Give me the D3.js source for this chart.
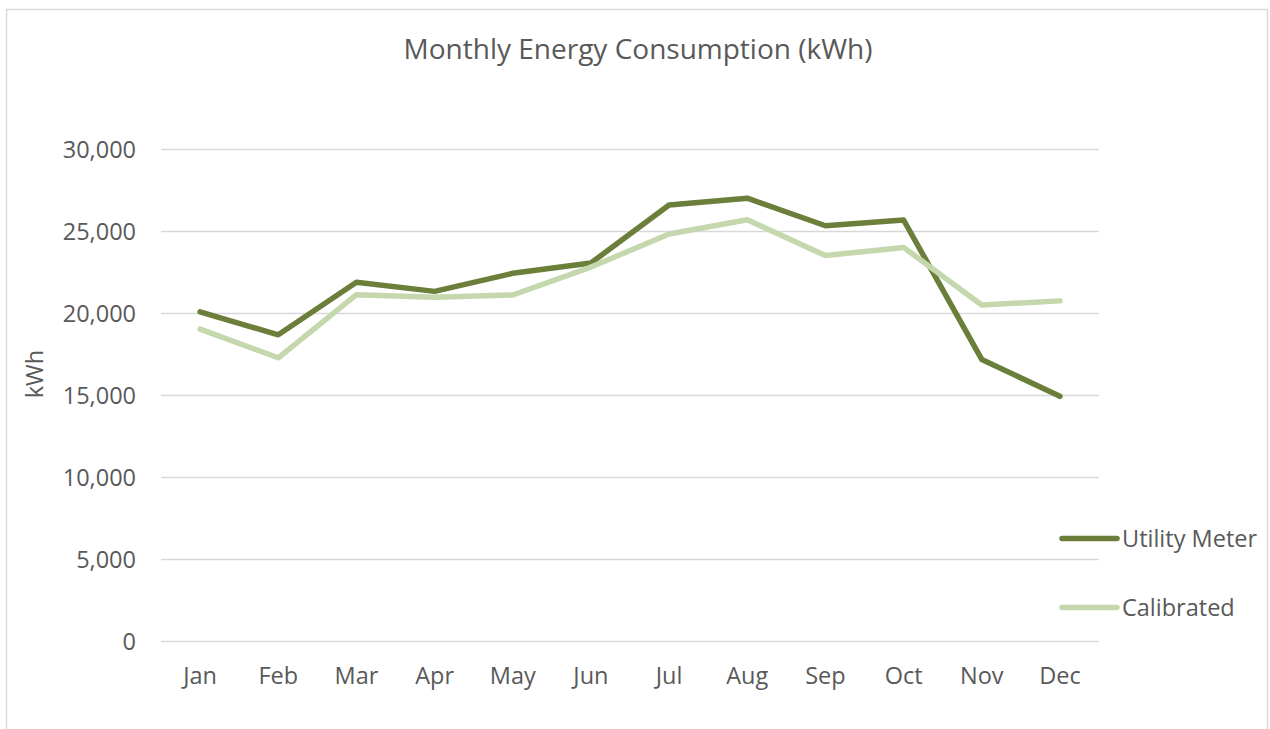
<!DOCTYPE html>
<html>
<head>
<meta charset="utf-8">
<script src="https://cdn.jsdelivr.net/npm/d3@7"></script>
<style>
  html, body { margin: 0; padding: 0; background: #fff; }
  text { font-family: "Open Sans", "Noto Sans", sans-serif; fill: #595959; }
</style>
</head>
<body>
<svg id="chart" width="1270" height="729"></svg>
<script>
// values
const months = ['Jan', 'Feb', 'Mar', 'Apr', 'May', 'Jun', 'Jul', 'Aug', 'Sep', 'Oct', 'Nov', 'Dec'];
const utilityMeter = [20100, 18700, 21900, 21350, 22450, 23080, 26620, 27030, 25350, 25700, 17200, 14950];
const calibrated = [19050, 17300, 21150, 20990, 21130, 22830, 24850, 25720, 23530, 24030, 20520, 20770];
const yTicks = [0, 5000, 10000, 15000, 20000, 25000, 30000];
const seriesNames = ['Utility Meter', 'Calibrated'];
const seriesColors = ['#6b7f3a', '#c5d7ac'];

const svg = d3.select('#chart');

// outer chart border
svg.append('rect')
  .attr('x', 6.5).attr('y', 9.5)
  .attr('width', 1261).attr('height', 740)
  .attr('fill', '#fff')
  .attr('stroke', '#d9d9d9')
  .attr('stroke-width', 1.5);

const plot = { left: 161, right: 1099, top: 149.5, bottom: 641.5 };

const x = d3.scaleBand()
  .domain(months)
  .range([plot.left, plot.right]);

const y = d3.scaleLinear()
  .domain([0, 30000])
  .range([plot.bottom, plot.top]);

// gridlines
svg.append('g')
  .selectAll('line')
  .data(yTicks)
  .enter()
  .append('line')
  .attr('x1', plot.left).attr('x2', plot.right)
  .attr('y1', d => y(d)).attr('y2', d => y(d))
  .attr('stroke', '#d9d9d9')
  .attr('stroke-width', 1.5);

// y axis labels
const yAxis = svg.append('g')
  .attr('transform', `translate(${plot.left - 25}, 0)`)
  .call(d3.axisLeft(y).tickValues(yTicks).tickSize(0).tickPadding(0).tickFormat(d3.format(',')));
yAxis.select('.domain').remove();
yAxis.selectAll('text')
  .attr('fill', '#595959')
  .attr('dy', '0.35em')
  .style('font-size', '23.5px')
  .style('font-family', '"Open Sans", sans-serif');

// x axis labels
const xAxis = svg.append('g')
  .attr('transform', `translate(0, ${plot.bottom})`)
  .call(d3.axisBottom(x).tickSize(0).tickPadding(0));
xAxis.select('.domain').remove();
xAxis.selectAll('text')
  .attr('fill', '#595959')
  .attr('y', 42)
  .attr('dy', 0)
  .style('font-size', '23.5px')
  .style('font-family', '"Open Sans", sans-serif');

// title
svg.append('text')
  .attr('x', 638)
  .attr('y', 59)
  .attr('text-anchor', 'middle')
  .style('font-size', '28px')
  .text('Monthly Energy Consumption (kWh)');

// y axis title
svg.append('text')
  .attr('transform', 'translate(43, 374) rotate(-90)')
  .attr('text-anchor', 'middle')
  .style('font-size', '23.5px')
  .text('kWh');

// series lines, later series drawn on top
const line = d3.line()
  .x((d, i) => x(months[i]) + x.bandwidth() / 2)
  .y(d => y(d));

[utilityMeter, calibrated].forEach((values, k) => {
  svg.append('path')
    .datum(values)
    .attr('d', line)
    .attr('fill', 'none')
    .attr('stroke', seriesColors[k])
    .attr('stroke-width', 5.5)
    .attr('stroke-linejoin', 'round')
    .attr('stroke-linecap', 'round');
});

// legend
const legend = svg.append('g')
  .selectAll('g')
  .data(seriesNames)
  .enter()
  .append('g')
  .attr('transform', (d, i) => `translate(1062, ${538.5 + i * 69})`);

legend.append('line')
  .attr('x1', 0).attr('x2', 55)
  .attr('stroke', (d, i) => seriesColors[i])
  .attr('stroke-width', 5.5)
  .attr('stroke-linecap', 'round');

legend.append('text')
  .attr('x', 60)
  .attr('y', 0)
  .attr('dy', '0.35em')
  .style('font-size', '23.5px')
  .text(d => d);
</script>
</body>
</html>
